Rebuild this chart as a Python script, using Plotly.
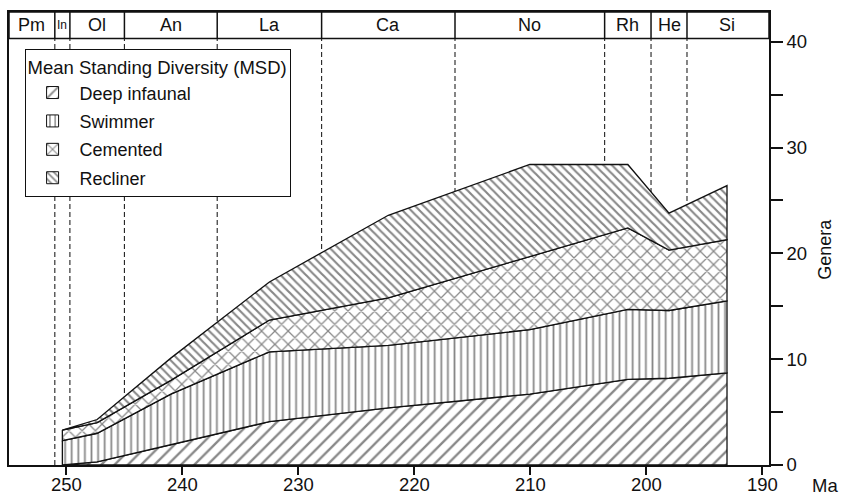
import plotly.graph_objects as go

# ---- data ----
stage_names = ["Pm", "In", "Ol", "An", "La", "Ca", "No", "Rh", "He", "Si"]
stage_bounds = [255.0, 251.0, 249.7, 245.0, 237.0, 228.0, 216.5, 203.6, 199.6, 196.5, 189.6]
ages = [250.35, 247.35, 241.0, 232.5, 222.25, 210.05, 201.6, 198.05, 193.05]
deep_infaunal = [0.0, 0.3, 1.9, 4.1, 5.4, 6.7, 8.1, 8.2, 8.7]
swimmer = [2.3, 2.7, 4.8, 6.6, 5.9, 6.1, 6.6, 6.4, 6.8]
cemented = [1.0, 1.0, 1.3, 3.0, 4.5, 6.9, 7.7, 5.7, 5.8]
recliner = [0.0, 0.3, 2.1, 3.6, 7.8, 8.7, 6.0, 3.5, 5.1]
x_ticks = [250, 240, 230, 220, 210, 200, 190]
y_ticks = [0, 5, 10, 15, 20, 25, 30, 35, 40]
y_ticktext = ["0", "", "10", "", "20", "", "30", "", "40"]

groups = [
    ("Deep infaunal", deep_infaunal, dict(shape="/", size=9.4, solidity=0.25)),
    ("Swimmer", swimmer, dict(shape="|", size=6.6, solidity=0.27)),
    ("Cemented", cemented, dict(shape="x", size=9.4, solidity=0.25)),
    ("Recliner", recliner, dict(shape="\\", size=6.0, solidity=0.36)),
]

FONT = "Liberation Sans, Arial, Helvetica, sans-serif"
INK = "#111"
fig = go.Figure()

lower = [0.0] * len(ages)
for name, vals, pat in groups:
    upper = [a + b for a, b in zip(lower, vals)]
    xs = ages + ages[::-1] + [ages[0]]
    ys = upper + lower[::-1] + [upper[0]]
    fig.add_trace(go.Scatter(
        x=xs, y=ys, mode="lines", fill="toself", showlegend=False,
        line=dict(color=INK, width=1.3),
        fillcolor="white",
        fillpattern=dict(fgcolor=INK, bgcolor="white", **pat),
        hoverinfo="skip",
    ))
    lower = upper

# legend entries
for i, (name, vals, pat) in enumerate(groups):
    fig.add_trace(go.Bar(
        x=[None], y=[None], name=name, legendgroup=name,
        marker=dict(color="white", line=dict(color=INK, width=1),
                    pattern=dict(fgcolor=INK, bgcolor="white", **pat)),
    ))

shapes = []
band_bottom = 0.9415
shapes.append(dict(type="rect", xref="paper", yref="paper", x0=0, x1=1, y0=band_bottom, y1=1,
                   line=dict(color=INK, width=1.5), fillcolor="white", layer="above"))
for b in stage_bounds[1:-1]:
    shapes.append(dict(type="line", xref="x", yref="paper", x0=b, x1=b, y0=band_bottom, y1=1,
                       line=dict(color=INK, width=1.5), layer="above"))
    shapes.append(dict(type="line", xref="x", yref="paper", x0=b, x1=b, y0=0, y1=band_bottom,
                       line=dict(color="#222", width=1.1, dash="5px,3px"), layer="below"))

annotations = []
for i, nm in enumerate(stage_names):
    lo = stage_bounds[i]
    hi = max(stage_bounds[i + 1], 189.43)
    mid = (lo + hi) / 2
    annotations.append(dict(x=mid, y=(band_bottom + 1) / 2, xref="x", yref="paper", text=nm,
                            showarrow=False, xanchor="center", yanchor="middle",
                            font=dict(size=12 if nm == "In" else 18, family=FONT, color=INK)))
annotations.append(dict(x=1.0737, y=-0.046, xref="paper", yref="paper", text="Ma", showarrow=False,
                        xanchor="center", yanchor="middle", font=dict(size=18.5, family=FONT, color=INK)))
annotations.append(dict(x=1.0737, y=0.475, xref="paper", yref="paper", text="Genera", showarrow=False,
                        textangle=-90, xanchor="center", yanchor="middle",
                        font=dict(size=18, family=FONT, color=INK)))

fig.update_layout(
    width=843, height=495,
    margin=dict(l=9, r=74, t=12, b=30),
    plot_bgcolor="white", paper_bgcolor="white",
    font=dict(family=FONT, size=18, color=INK),
    xaxis=dict(range=[254.95, 189.43], tickvals=x_ticks, ticks="outside", ticklen=8, tickwidth=1.5,
               tickcolor=INK, showline=True, linecolor=INK, linewidth=1.5, mirror=True,
               showgrid=False, zeroline=False, tickfont=dict(size=18.5), automargin=False,
               ticklabelstandoff=-6),
    yaxis=dict(side="right", range=[0, 42.81], tickvals=y_ticks, ticktext=y_ticktext, ticks="outside",
               ticklen=12, tickwidth=1.5, tickcolor=INK, showline=True, linecolor=INK, linewidth=1.5,
               mirror=True, showgrid=False, zeroline=False, tickfont=dict(size=18.5), automargin=False),
    legend=dict(x=0.0205, y=0.9177, xanchor="left", yanchor="top", bgcolor="white",
                bordercolor=INK, borderwidth=1, font=dict(size=18, family=FONT),
                title=dict(text="Mean Standing Diversity (MSD)", font=dict(size=18.5, family=FONT)),
                traceorder="grouped", tracegroupgap=2, itemwidth=44),
    shapes=shapes, annotations=annotations,
    showlegend=True,
)

fig.write_html("out.html")
